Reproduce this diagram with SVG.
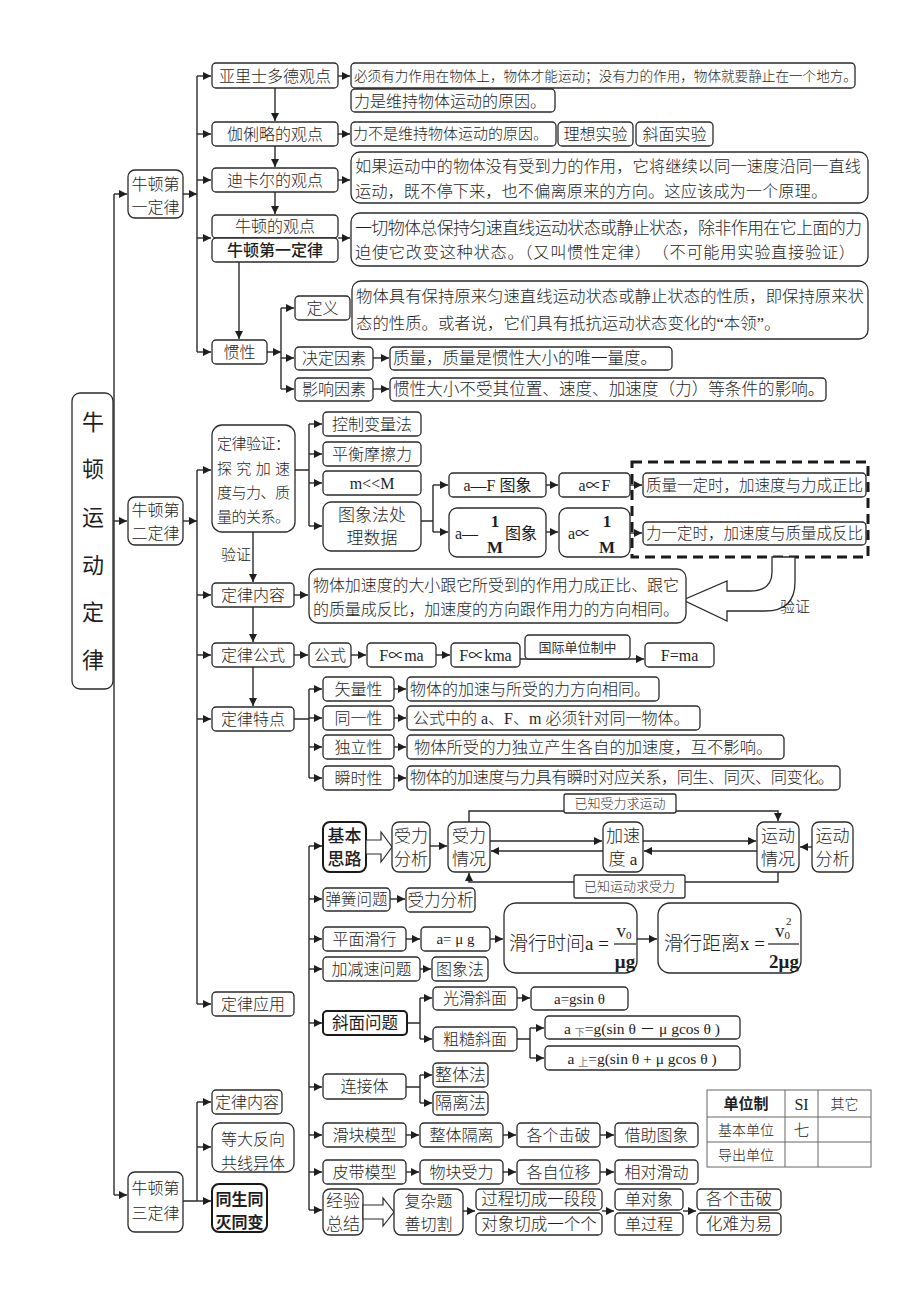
<svg xmlns="http://www.w3.org/2000/svg" width="920" height="1302" viewBox="0 0 920 1302" font-size="16">
<defs>
<marker id="ah" viewBox="0 0 10 10" refX="10" refY="5" markerWidth="8" markerHeight="8" markerUnits="userSpaceOnUse" orient="auto"><path d="M0,0 L10,5 L0,10 Z" fill="#1e1e1e"/></marker>
</defs>
<style>
text { font-family: "Liberation Serif", "Noto Sans CJK SC", serif; fill: #1e1e1e; dominant-baseline: central; }
.m { text-anchor: middle; }
.bd { font-weight: 700; }
.lt { font-weight: 300; }
.sm { font-size: 13px; fill: #333; }
rect.b { fill: #fff; stroke: #2a2a2a; stroke-width: 1.3; }
rect.k { fill: #fff; stroke: #1a1a1a; stroke-width: 2; }
.c path { fill: none; stroke: #2a2a2a; stroke-width: 1.4; }
.c path.a { marker-end: url(#ah); }
.tb line { stroke: #666; stroke-width: 1; }
</style>
<rect width="920" height="1302" fill="#fff"/>

<g class="c" id="connectors">
<path d="M114,194 V1195"/>
<path class="a" d="M114,194 H127"/>
<path class="a" d="M114,521 H127"/>
<path class="a" d="M114,1195 H127"/>
<path class="a" d="M183,194 H197"/>
<path d="M197,76 V352"/>
<path class="a" d="M197,76 H211"/>
<path class="a" d="M197,134 H211"/>
<path class="a" d="M197,180 H211"/>
<path class="a" d="M197,238 H211"/>
<path class="a" d="M197,352 H211"/>
<path class="a" d="M338,76 H350"/>
<path class="a" d="M338,134 H350"/>
<path class="a" d="M338,180 H350"/>
<path class="a" d="M338,238 H350"/>
<path class="a" d="M275,88 V121"/>
<path class="a" d="M275,146 V167"/>
<path class="a" d="M275,192 V214"/>
<path class="a" d="M239,262 V339"/>
<path class="a" d="M267,352 H281"/>
<path d="M281,308 V389"/>
<path class="a" d="M281,308 H294"/>
<path class="a" d="M281,358 H294"/>
<path class="a" d="M281,389 H294"/>
<path class="a" d="M373,358 H389"/>
<path class="a" d="M373,389 H389"/>
<path class="a" d="M183,521 H197"/>
<path d="M197,470 V1004"/>
<path class="a" d="M197,470 H211"/>
<path class="a" d="M197,595 H211"/>
<path class="a" d="M197,655 H211"/>
<path class="a" d="M197,719 H211"/>
<path class="a" d="M197,1004 H211"/>
<path d="M295,470 H309 M309,424 V526"/>
<path class="a" d="M309,424 H322"/>
<path class="a" d="M309,454 H322"/>
<path class="a" d="M309,483 H322"/>
<path class="a" d="M309,526 H322"/>
<path d="M421,521 H433 M433,485 V532"/>
<path class="a" d="M433,485 H448"/>
<path class="a" d="M433,532 H448"/>
<path class="a" d="M546,485 H558"/>
<path class="a" d="M546,532 H558"/>
<path class="a" d="M630,485 H642"/>
<path class="a" d="M630,533 H642"/>
<path class="a" d="M253,532 V582"/>
<path class="a" d="M294,595 H308"/>
<path class="a" d="M253,607 V642"/>
<path class="a" d="M294,655 H308"/>
<path class="a" d="M351,655 H366"/>
<path class="a" d="M436,655 H450"/>
<path class="a" d="M520,659 H644"/>
<path class="a" d="M253,667 V706"/>
<path d="M294,719 H309 M309,689 V778"/>
<path class="a" d="M309,689 H322"/>
<path class="a" d="M309,718 H322"/>
<path class="a" d="M309,747 H322"/>
<path class="a" d="M309,778 H322"/>
<path class="a" d="M394,689 H406"/>
<path class="a" d="M394,718 H406"/>
<path class="a" d="M394,747 H406"/>
<path class="a" d="M394,778 H406"/>
<path d="M309,846 V1210"/>
<path class="a" d="M309,846 H322"/>
<path class="a" d="M309,899 H322"/>
<path class="a" d="M309,939 H322"/>
<path class="a" d="M309,969 H322"/>
<path class="a" d="M309,1023 H322"/>
<path class="a" d="M309,1087 H322"/>
<path class="a" d="M309,1135 H322"/>
<path class="a" d="M309,1172 H322"/>
<path class="a" d="M309,1210 H322"/>
<path class="a" d="M430,846 H447"/>
<path class="a" d="M490,841 H602"/>
<path class="a" d="M603,851 H491"/>
<path class="a" d="M643,841 H756"/>
<path class="a" d="M757,851 H644"/>
<path class="a" d="M812,847 H800"/>
<path class="a" d="M469,822 V811 H778 V821"/>
<path class="a" d="M778,872 V882 H469 V873"/>
<path class="a" d="M390,899 H405"/>
<path class="a" d="M406,939 H420"/>
<path class="a" d="M490,939 H503"/>
<path class="a" d="M637,939 H657"/>
<path class="a" d="M420,969 H431"/>
<path d="M407,1023 H420 M420,998 V1039"/>
<path class="a" d="M420,998 H432"/>
<path class="a" d="M420,1039 H432"/>
<path class="a" d="M517,998 H530"/>
<path d="M517,1039 H530 M530,1028 V1058"/>
<path class="a" d="M530,1028 H544"/>
<path class="a" d="M530,1058 H544"/>
<path d="M406,1087 H420 M420,1075 V1103"/>
<path class="a" d="M420,1075 H432"/>
<path class="a" d="M420,1103 H432"/>
<path class="a" d="M406,1135 H419"/>
<path class="a" d="M503,1135 H516"/>
<path class="a" d="M600,1135 H614"/>
<path class="a" d="M406,1172 H419"/>
<path class="a" d="M503,1172 H516"/>
<path class="a" d="M600,1172 H614"/>
<path class="a" d="M463,1211 H475"/>
<path class="a" d="M602,1211 H614"/>
<path class="a" d="M683,1211 H696"/>
<path d="M183,1201 H197 M197,1102 V1201"/>
<path class="a" d="M197,1102 H211"/>
<path class="a" d="M197,1147 H211"/>
<path class="a" d="M197,1201 H211"/>
</g>

<g id="root"><rect class="b" x="72" y="393" width="41" height="296" rx="8"/>
<text class="m" x="93" y="422" font-size="22">牛</text><text class="m" x="93" y="469" font-size="22">顿</text><text class="m" x="93" y="517" font-size="22">运</text><text class="m" x="93" y="565" font-size="22">动</text><text class="m" x="93" y="612" font-size="22">定</text><text class="m" x="93" y="660" font-size="22">律</text></g>

<g id="law1"><rect class="b" x="128" y="170" width="55" height="48" rx="7"/><text class="m lt" x="155.5" y="184">牛顿第</text><text class="m lt" x="155.5" y="207">一定律</text></g>
<g id="law2"><rect class="b" x="128" y="497" width="55" height="48" rx="7"/><text class="m lt" x="155.5" y="510">牛顿第</text><text class="m lt" x="155.5" y="533">二定律</text></g>
<g id="law3"><rect class="b" x="128" y="1172" width="55" height="60" rx="7"/><text class="m lt" x="155.5" y="1188">牛顿第</text><text class="m lt" x="155.5" y="1213">三定律</text></g>

<g id="aris"><rect class="b" x="212" y="63" width="126" height="25" rx="4"/><text class="m lt" x="275" y="76">亚里士多德观点</text></g>
<g id="aris_t1"><rect class="b" x="351" y="63" width="504" height="25" rx="4"/><text class="lt" x="354" y="76" font-size="13.6">必须有力作用在物体上，物体才能运动；没有力的作用，物体就要静止在一个地方。</text></g>
<g id="aris_t2"><rect class="b" x="351" y="89" width="204" height="23" rx="4"/><text class="lt" x="354" y="101">力是维持物体运动的原因。</text></g>
<g id="gal"><rect class="b" x="212" y="122" width="126" height="24" rx="4"/><text class="m lt" x="275" y="134">伽俐略的观点</text></g>
<g id="gal_t1"><rect class="b" x="351" y="122" width="205" height="24" rx="4"/><text class="lt" x="353" y="134" font-size="15">力不是维持物体运动的原因。</text></g>
<g id="gal_t2"><rect class="b" x="558" y="122" width="75" height="24" rx="4"/><text class="m lt" x="595.5" y="134">理想实验</text></g>
<g id="gal_t3"><rect class="b" x="636" y="122" width="77" height="24" rx="4"/><text class="m lt" x="674.5" y="134">斜面实验</text></g>
<g id="des"><rect class="b" x="212" y="168" width="126" height="24" rx="4"/><text class="m lt" x="275" y="180">迪卡尔的观点</text></g>
<g id="des_t"><rect class="b" x="351" y="152" width="517" height="51" rx="9"/><text class="lt" x="355" y="166" font-size="16.3" textLength="506">如果运动中的物体没有受到力的作用，它将继续以同一速度沿同一直线</text><text class="lt" x="355" y="191" font-size="16.3">运动，既不停下来，也不偏离原来的方向。这应该成为一个原理。</text></g>
<g id="newt"><rect class="b" x="212" y="215" width="126" height="23" rx="4"/><text class="m lt" x="275" y="226.5">牛顿的观点</text><rect class="b" x="212" y="238" width="126" height="24" rx="4"/><text class="m" x="275" y="250" font-weight="500">牛顿第一定律</text></g>
<g id="newt_t"><rect class="b" x="351" y="213" width="517" height="53" rx="9"/><text class="lt" x="355" y="228" font-size="17" textLength="507">一切物体总保持匀速直线运动状态或静止状态，除非作用在它上面的力</text><text class="lt" x="355" y="253" font-size="16.2" textLength="500">迫使它改变这种状态。（又叫惯性定律）　（不可能用实验直接验证）</text></g>
<g id="inertia"><rect class="b" x="212" y="340" width="55" height="24" rx="4"/><text class="m lt" x="239.5" y="352">惯性</text></g>
<g id="def"><rect class="b" x="295" y="296" width="55" height="24" rx="4"/><text class="m lt" x="322.5" y="308">定义</text></g>
<g id="def_t"><rect class="b" x="352" y="281" width="516" height="58" rx="9"/><text class="lt" x="356" y="296" font-size="16.4" textLength="508">物体具有保持原来匀速直线运动状态或静止状态的性质，即保持原来状</text><text class="lt" x="356" y="323" font-size="16.4">态的性质。或者说，它们具有抵抗运动状态变化的“本领”。</text></g>
<g id="det"><rect class="b" x="295" y="347" width="78" height="23" rx="4"/><text class="m lt" x="334" y="358.5">决定因素</text></g>
<g id="det_t"><rect class="b" x="390" y="347" width="282" height="23" rx="4"/><text class="lt" x="393" y="358.5" font-size="16.5">质量，质量是惯性大小的唯一量度。</text></g>
<g id="inf"><rect class="b" x="295" y="378" width="78" height="23" rx="4"/><text class="m lt" x="334" y="389.5">影响因素</text></g>
<g id="inf_t"><rect class="b" x="390" y="378" width="436" height="23" rx="4"/><text class="lt" x="393" y="389.5" font-size="16.6">惯性大小不受其位置、速度、加速度（力）等条件的影响。</text></g>

<g id="verify"><rect class="b" x="212" y="425" width="83" height="107" rx="10"/><text class="lt" x="217" y="444" font-size="15" textLength="73">定律验证：</text><text class="lt" x="217" y="469" font-size="15" textLength="73">探究加速</text><text class="lt" x="217" y="493" font-size="15" textLength="73">度与力、质</text><text class="lt" x="217" y="517" font-size="15" textLength="73">量的关系。</text></g>
<text class="m lt" x="236" y="555" font-size="15">验证</text>
<g id="cvm"><rect class="b" x="323" y="412" width="98" height="24" rx="4"/><text class="m lt" x="372" y="424">控制变量法</text></g>
<g id="bal"><rect class="b" x="323" y="442" width="98" height="24" rx="4"/><text class="m lt" x="372" y="454">平衡摩擦力</text></g>
<g id="mM"><rect class="b" x="323" y="471" width="98" height="24" rx="4"/><text class="m" x="372" y="483">m&lt;&lt;M</text></g>
<g id="imgproc"><rect class="b" x="323" y="502" width="98" height="49" rx="8"/><text class="m lt" x="372" y="515" font-size="17">图象法处</text><text class="m lt" x="372" y="538" font-size="17">理数据</text></g>
<g id="aF"><rect class="b" x="449" y="473" width="97" height="24" rx="4"/><text class="m" x="497.5" y="485">a—F 图象</text></g>
<g id="aFp"><rect class="b" x="559" y="473" width="71" height="24" rx="4"/><text class="m" x="594.5" y="485">a∝F</text></g>
<g id="aM"><rect class="b" x="449" y="508" width="97" height="49" rx="8"/><text x="455" y="533">a—</text><text class="m bd" x="495" y="521" font-size="17">1</text><text class="m bd" x="495" y="547" font-size="17">M</text><text x="505" y="533">图象</text></g>
<g id="aMp"><rect class="b" x="559" y="508" width="71" height="49" rx="8"/><text x="568" y="533">a∝</text><text class="m bd" x="607" y="521" font-size="17">1</text><text class="m bd" x="607" y="547" font-size="17">M</text></g>
<g id="conc1"><rect class="b" x="643" y="473" width="223" height="24" rx="4"/><text class="m lt" x="754.5" y="485" font-size="15.5">质量一定时，加速度与力成正比</text></g>
<g id="conc2"><rect class="b" x="643" y="522" width="223" height="23" rx="4"/><text class="m lt" x="754.5" y="533.5" font-size="15.5">力一定时，加速度与质量成反比</text></g>
<rect x="632" y="462" width="236" height="95" fill="none" stroke="#1a1a1a" stroke-width="3" stroke-dasharray="10 6"/>
<path d="M772,557 L795,557 L795,582 Q795,611 765,611 L727,611 L727,621 L683,600 L727,581 L727,591 L750,591 Q772,591 772,572 Z" fill="#fff" stroke="#2a2a2a" stroke-width="1.3"/>
<text class="m lt" x="795" y="607" font-size="15">验证</text>
<g id="content"><rect class="b" x="212" y="583" width="82" height="24" rx="4"/><text class="m lt" x="253" y="595">定律内容</text></g>
<g id="content_t"><rect class="b" x="309" y="569" width="377" height="54" rx="9"/><text class="lt" x="313" y="585" textLength="366">物体加速度的大小跟它所受到的作用力成正比、跟它</text><text class="lt" x="313" y="609" textLength="366">的质量成反比，加速度的方向跟作用力的方向相同。</text></g>
<g id="formula"><rect class="b" x="212" y="643" width="82" height="24" rx="4"/><text class="m lt" x="253" y="655">定律公式</text></g>
<g id="gs"><rect class="b" x="309" y="643" width="42" height="24" rx="4"/><text class="m lt" x="330" y="655">公式</text></g>
<g id="Fma1"><rect class="b" x="367" y="643" width="69" height="24" rx="4"/><text class="m" x="401.5" y="655">F∝ma</text></g>
<g id="Fkma"><rect class="b" x="451" y="643" width="69" height="24" rx="4"/><text class="m" x="485.5" y="655">F∝kma</text></g>
<g id="intl"><rect class="b" x="525" y="635" width="105" height="24" rx="4"/><text class="m sm" x="577.5" y="647">国际单位制中</text></g>
<g id="Fma2"><rect class="b" x="645" y="643" width="69" height="24" rx="4"/><text class="m" x="679.5" y="655">F=ma</text></g>
<g id="feat"><rect class="b" x="212" y="707" width="82" height="24" rx="4"/><text class="m lt" x="253" y="719">定律特点</text></g>
<g id="p1"><rect class="b" x="323" y="677" width="71" height="24" rx="4"/><text class="m lt" x="358.5" y="689">矢量性</text></g>
<g id="p1t"><rect class="b" x="407" y="677" width="252" height="24" rx="4"/><text class="lt" x="410" y="689">物体的加速与所受的力方向相同。</text></g>
<g id="p2"><rect class="b" x="323" y="706" width="71" height="24" rx="4"/><text class="m lt" x="358.5" y="718">同一性</text></g>
<g id="p2t"><rect class="b" x="407" y="706" width="293" height="24" rx="4"/><text class="lt" x="413" y="718">公式中的 a、F、m 必须针对同一物体。</text></g>
<g id="p3"><rect class="b" x="323" y="735" width="71" height="24" rx="4"/><text class="m lt" x="358.5" y="747">独立性</text></g>
<g id="p3t"><rect class="b" x="407" y="735" width="377" height="24" rx="4"/><text class="lt" x="414" y="747" font-size="16.3">物体所受的力独立产生各自的加速度，互不影响。</text></g>
<g id="p4"><rect class="b" x="323" y="766" width="71" height="24" rx="4"/><text class="m lt" x="358.5" y="778">瞬时性</text></g>
<g id="p4t"><rect class="b" x="407" y="766" width="433" height="24" rx="4"/><text class="lt" x="410" y="778" font-size="16.2" textLength="424">物体的加速度与力具有瞬时对应关系，同生、同灭、同变化。</text></g>
<g id="apply"><rect class="b" x="212" y="992" width="82" height="24" rx="4"/><text class="m lt" x="253" y="1004">定律应用</text></g>

<g id="basic"><rect class="k" x="323" y="822" width="43" height="50" rx="7"/><text class="m" x="344.5" y="836" font-weight="500" font-size="17">基本</text><text class="m" x="344.5" y="859" font-weight="500" font-size="17">思路</text></g>
<path d="M366,840 H381 V832 L392,847 L381,862 V854 H366 Z" fill="#fff" stroke="#2a2a2a" stroke-width="1.2"/>
<g id="fa"><rect class="b" x="392" y="822" width="38" height="50" rx="7"/><text class="m lt" x="411" y="836" font-size="17">受力</text><text class="m lt" x="411" y="859" font-size="17">分析</text></g>
<g id="fs"><rect class="b" x="448" y="822" width="42" height="50" rx="7"/><text class="m lt" x="469" y="836" font-size="17">受力</text><text class="m lt" x="469" y="859" font-size="17">情况</text></g>
<g id="acc"><rect class="b" x="603" y="822" width="40" height="50" rx="7"/><text class="m lt" x="623" y="836" font-size="17">加速</text><text class="m lt" x="623" y="859" font-size="17">度 a</text></g>
<g id="ms"><rect class="b" x="757" y="822" width="42" height="50" rx="7"/><text class="m lt" x="778" y="836" font-size="17">运动</text><text class="m lt" x="778" y="859" font-size="17">情况</text></g>
<g id="ma"><rect class="b" x="812" y="822" width="41" height="50" rx="7"/><text class="m lt" x="832.5" y="836" font-size="17">运动</text><text class="m lt" x="832.5" y="859" font-size="17">分析</text></g>
<g id="lbl1"><rect class="b" x="564" y="794" width="112" height="19" rx="2"/><text class="m sm lt" x="620" y="803.5">已知受力求运动</text></g>
<g id="lbl2"><rect class="b" x="574" y="875" width="111" height="23" rx="2"/><text class="m sm lt" x="629.5" y="886.5">已知运动求受力</text></g>
<g id="spring"><rect class="b" x="323" y="888" width="67" height="23" rx="4"/><text class="m lt" x="356.5" y="899.5" font-size="15.5">弹簧问题</text></g>
<g id="fa2"><rect class="b" x="406" y="888" width="69" height="24" rx="4"/><text class="m lt" x="440.5" y="900" font-size="16.5">受力分析</text></g>
<g id="slide"><rect class="b" x="323" y="927" width="83" height="24" rx="4"/><text class="m lt" x="364.5" y="939">平面滑行</text></g>
<g id="amug"><rect class="b" x="421" y="927" width="69" height="24" rx="4"/><text class="m" x="455.5" y="939" font-size="15">a= μ g</text></g>
<g id="tslide"><rect class="b" x="504" y="903" width="133" height="70" rx="12"/><text class="lt" x="509" y="943" font-size="19">滑行时间a =</text><line x1="614" y1="944" x2="636" y2="944" stroke="#1e1e1e" stroke-width="1.2"/><text class="m" x="624" y="930" font-size="19">v<tspan font-size="11" dy="5">0</tspan></text><text class="m bd" x="625" y="961" font-size="19">μg</text></g>
<g id="dslide"><rect class="b" x="658" y="903" width="143" height="70" rx="12"/><text class="lt" x="664" y="943" font-size="19">滑行距离x =</text><line x1="768" y1="944" x2="799" y2="944" stroke="#1e1e1e" stroke-width="1.2"/><text x="775" y="930" font-size="19">v<tspan font-size="11" dy="5">0</tspan></text><text x="786" y="921" font-size="11">2</text><text class="m bd" x="784" y="961" font-size="19">2μg</text></g>
<g id="accdec"><rect class="b" x="323" y="957" width="97" height="24" rx="4"/><text class="m lt" x="371.5" y="969">加减速问题</text></g>
<g id="gx"><rect class="b" x="432" y="957" width="56" height="24" rx="4"/><text class="m lt" x="460" y="969">图象法</text></g>
<g id="incl"><rect class="k" x="323" y="1011" width="84" height="24" rx="4"/><text class="m" x="365" y="1023" font-size="16.5">斜面问题</text></g>
<g id="smooth"><rect class="b" x="433" y="987" width="84" height="23" rx="4"/><text class="m lt" x="475" y="998.5">光滑斜面</text></g>
<g id="agsin"><rect class="b" x="531" y="987" width="97" height="23" rx="4"/><text class="m" x="579.5" y="998.5" font-size="15">a=gsin θ</text></g>
<g id="rough"><rect class="b" x="433" y="1027" width="84" height="24" rx="4"/><text class="m lt" x="475" y="1039">粗糙斜面</text></g>
<g id="adown"><rect class="b" x="545" y="1016" width="195" height="23" rx="4"/><text class="m" x="642" y="1028" font-size="15.5">a <tspan font-size="10" fill="#777" dy="4">下</tspan><tspan dy="-4">=g(sin θ － μ gcos θ )</tspan></text></g>
<g id="aup"><rect class="b" x="545" y="1046" width="195" height="24" rx="4"/><text class="m" x="642" y="1058" font-size="15.5">a <tspan font-size="10" fill="#777" dy="4">上</tspan><tspan dy="-4">=g(sin θ + μ gcos θ )</tspan></text></g>
<g id="conn"><rect class="b" x="323" y="1074" width="83" height="25" rx="4"/><text class="m lt" x="364.5" y="1086.5">连接体</text></g>
<g id="whole"><rect class="b" x="433" y="1063" width="55" height="24" rx="4"/><text class="m lt" x="460.5" y="1075" font-size="17">整体法</text></g>
<g id="iso"><rect class="b" x="433" y="1092" width="55" height="23" rx="4"/><text class="m lt" x="460.5" y="1103.5" font-size="17">隔离法</text></g>
<g id="slider"><rect class="b" x="323" y="1123" width="83" height="24" rx="4"/><text class="m lt" x="364.5" y="1135">滑块模型</text></g>
<g id="s2"><rect class="b" x="420" y="1123" width="83" height="24" rx="4"/><text class="m lt" x="461.5" y="1135">整体隔离</text></g>
<g id="s3"><rect class="b" x="517" y="1123" width="83" height="24" rx="4"/><text class="m lt" x="558.5" y="1135">各个击破</text></g>
<g id="s4"><rect class="b" x="615" y="1123" width="83" height="24" rx="4"/><text class="m lt" x="656.5" y="1135">借助图象</text></g>
<g id="belt"><rect class="b" x="323" y="1160" width="83" height="24" rx="4"/><text class="m lt" x="364.5" y="1172">皮带模型</text></g>
<g id="b2"><rect class="b" x="420" y="1160" width="83" height="24" rx="4"/><text class="m lt" x="461.5" y="1172">物块受力</text></g>
<g id="b3"><rect class="b" x="517" y="1160" width="83" height="24" rx="4"/><text class="m lt" x="558.5" y="1172">各自位移</text></g>
<g id="b4"><rect class="b" x="615" y="1160" width="83" height="24" rx="4"/><text class="m lt" x="656.5" y="1172">相对滑动</text></g>
<g id="exp"><rect class="b" x="323" y="1189" width="40" height="46" rx="7"/><text class="m lt" x="343" y="1201" font-size="17">经验</text><text class="m lt" x="343" y="1224" font-size="17">总结</text></g>
<path d="M363,1205 H383 V1198 L394,1212 L383,1226 V1219 H363 Z" fill="#fff" stroke="#2a2a2a" stroke-width="1.2"/>
<g id="cx"><rect class="b" x="394" y="1189" width="69" height="46" rx="7"/><text class="m lt" x="428.5" y="1201">复杂题</text><text class="m lt" x="428.5" y="1224">善切割</text></g>
<g id="r1"><rect class="b" x="476" y="1189" width="126" height="21" rx="4"/><text class="m lt" x="539" y="1199.5" font-size="16.5">过程切成一段段</text><rect class="b" x="476" y="1213" width="126" height="22" rx="4"/><text class="m lt" x="539" y="1224" font-size="16.5">对象切成一个个</text></g>
<g id="r2"><rect class="b" x="615" y="1189" width="68" height="21" rx="4"/><text class="m lt" x="649" y="1199.5">单对象</text><rect class="b" x="615" y="1213" width="68" height="22" rx="4"/><text class="m lt" x="649" y="1224">单过程</text></g>
<g id="r3"><rect class="b" x="697" y="1189" width="84" height="21" rx="4"/><text class="m lt" x="739" y="1199.5" font-size="16.5">各个击破</text><rect class="b" x="697" y="1213" width="84" height="22" rx="4"/><text class="m lt" x="739" y="1224" font-size="16.5">化难为易</text></g>

<g id="t1"><rect class="b" x="212" y="1090" width="70" height="24" rx="4"/><text class="m lt" x="247" y="1102">定律内容</text></g>
<g id="t2"><rect class="b" x="212" y="1123" width="82" height="49" rx="8"/><text class="m lt" x="253" y="1139">等大反向</text><text class="m lt" x="253" y="1163">共线异体</text></g>
<g id="t3"><rect class="k" x="212" y="1184" width="55" height="48" rx="7"/><text class="m bd" x="239.5" y="1199">同生同</text><text class="m bd" x="239.5" y="1222">灭同变</text></g>

<g id="units" class="tb">
<rect x="707" y="1090" width="164" height="77" fill="#fff" stroke="#666" stroke-width="1"/>
<line x1="785" y1="1090" x2="785" y2="1167"/><line x1="818" y1="1090" x2="818" y2="1167"/>
<line x1="707" y1="1117" x2="871" y2="1117"/><line x1="707" y1="1142" x2="871" y2="1142"/>
<text class="m bd" x="746" y="1104" font-size="15">单位制</text>
<text class="m" x="801.5" y="1104" font-size="16">SI</text>
<text class="m lt" x="844.5" y="1104" font-size="14">其它</text>
<text class="m lt" x="746" y="1130" font-size="14">基本单位</text>
<text class="m lt" x="801.5" y="1130" font-size="16">七</text>
<text class="m lt" x="746" y="1155" font-size="14">导出单位</text>
</g>
</svg>
